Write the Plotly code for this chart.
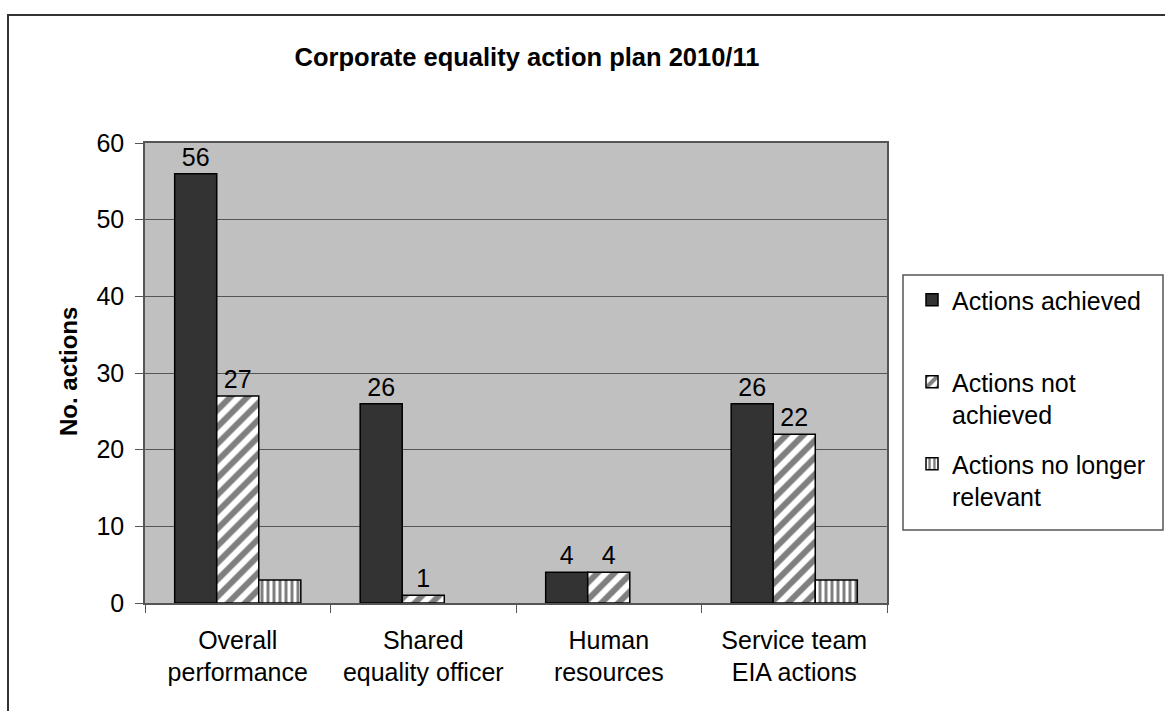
import plotly.graph_objects as go

categories = ["Overall<br>performance", "Shared<br>equality officer", "Human<br>resources", "Service team<br>EIA actions"]
achieved = [56, 26, 4, 26]
not_achieved = [27, 1, 4, 22]
no_longer_relevant = [3, None, None, 3]
series_names = ["Actions achieved", "Actions not<br>achieved", "Actions no longer<br>relevant"]

W, H = 1165, 711
L, R, T, B = 145, 887, 143, 603
pw, ph = R - L, B - T

def px(x):
    return (x - L) / pw

def py(y):
    return (B - y) / ph

FONT = "Liberation Sans, Arial, sans-serif"
FS = 25

fig = go.Figure()
fig.add_trace(go.Bar(
    x=categories, y=achieved, name=series_names[0] + "<br>\u00a0",
    marker=dict(color="#333333", line=dict(color="black", width=1.5)),
    text=achieved, textposition="outside", cliponaxis=False,
    textfont=dict(size=FS, color="black", family=FONT),
    legendgroup="a",
))
fig.add_trace(go.Bar(
    x=categories, y=not_achieved, name=series_names[1],
    marker=dict(color="white", line=dict(color="black", width=1.5),
                pattern=dict(shape="/", fgcolor="black", bgcolor="white", size=12, solidity=0.5)),
    text=not_achieved, textposition="outside", cliponaxis=False,
    textfont=dict(size=FS, color="black", family=FONT),
    legendgroup="b",
))
fig.add_trace(go.Bar(
    x=categories, y=no_longer_relevant, name=series_names[2],
    marker=dict(color="white", line=dict(color="black", width=1.5),
                pattern=dict(shape="|", fgcolor="black", bgcolor="white", size=6, solidity=0.5)),
    legendgroup="c",
))

shapes = [
    dict(type="rect", xref="paper", yref="paper",
         x0=px(8), x1=px(1175), y0=py(720), y1=py(15),
         line=dict(color="#333333", width=2), fillcolor="rgba(0,0,0,0)", layer="below"),
    dict(type="rect", xref="paper", yref="paper",
         x0=px(903), x1=px(1163), y0=py(530), y1=py(275),
         line=dict(color="#555555", width=1.5), fillcolor="white", layer="below"),
]

fig.update_layout(
    width=W, height=H,
    margin=dict(l=L, r=W - R, t=T, b=H - B, autoexpand=False),
    paper_bgcolor="white",
    plot_bgcolor="#C0C0C0",
    font=dict(family=FONT, size=FS, color="black"),
    barmode="group", bargap=0.32, bargroupgap=0,
    title=dict(text="<b>Corporate equality action plan 2010/11</b>",
               x=527 / W, xanchor="center", xref="container",
               y=1 - 57 / H, yanchor="middle", yref="container",
               font=dict(size=25.5, family=FONT, color="black")),
    showlegend=True,
    legend=dict(x=px(912), xanchor="left", y=py(277), yanchor="top",
                bgcolor="rgba(0,0,0,0)", borderwidth=0,
                font=dict(size=FS, family=FONT, color="black"),
                tracegroupgap=14, valign="top", traceorder="grouped"),
    shapes=shapes,
    annotations=[dict(text="<b>No. actions</b>", xref="paper", yref="paper",
                      x=px(68), y=py(372), xanchor="center", yanchor="middle",
                      textangle=-90, showarrow=False,
                      font=dict(size=24, family=FONT, color="black"))],
)

fig.update_xaxes(
    type="category", showgrid=False, showline=True, linecolor="#555555", linewidth=1.5,
    mirror=True, ticks="outside", tickson="boundaries", ticklen=8, tickcolor="#555555",
    ticklabelstandoff=14,
    tickfont=dict(size=FS, family=FONT, color="black"), automargin=False,
)
fig.update_yaxes(
    range=[0, 60], dtick=10, showgrid=True, gridcolor="#555555", gridwidth=1,
    showline=True, linecolor="#555555", linewidth=1.5, mirror=True,
    ticks="outside", ticklen=8, tickcolor="#555555", ticklabelstandoff=6,
    tickfont=dict(size=FS, family=FONT, color="black"), zeroline=False, automargin=False,
)

fig.write_html("out.html", config={"displayModeBar": False},
               post_script="document.body.style.margin='0';")
